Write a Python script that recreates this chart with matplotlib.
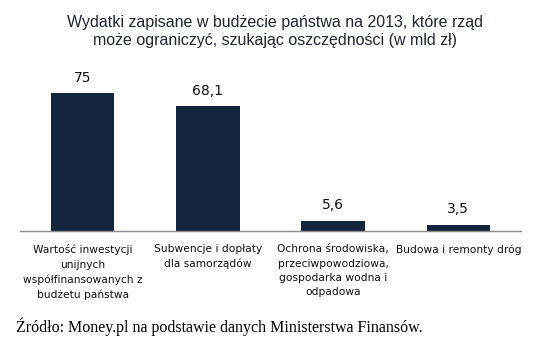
import matplotlib

matplotlib.use("Agg")
import matplotlib.pyplot as plt

# data
categories = [
    "Wartość inwestycji\nunijnych\nwspółfinansowanych z\nbudżetu państwa",
    "Subwencje i dopłaty\ndla samorządów",
    "Ochrona środowiska,\nprzeciwpowodziowa,\ngospodarka wodna i\nodpadowa",
    "Budowa i remonty dróg",
]
values = [75, 68.1, 5.6, 3.5]
value_labels = ["75", "68,1", "5,6", "3,5"]

title = "Wydatki zapisane w budżecie państwa na 2013, które rząd\nmoże ograniczyć, szukając oszczędności (w mld zł)"
source = "Źródło: Money.pl na podstawie danych Ministerstwa Finansów."

W, H = 558, 364
fig = plt.figure(figsize=(W / 100, H / 100), dpi=100)
ax = fig.add_axes([20 / W, 1 - 231 / H, 501 / W, 147 / H])

x = list(range(len(values)))
ax.bar(x, values, width=0.507, color="#14243d")
ax.set_xlim(-0.5, len(values) - 0.5)
ax.set_ylim(0, 80)

for xi, v, lab in zip(x, values, value_labels):
    ax.annotate(lab, (xi, v), xytext=(0, 6), textcoords="offset points",
                ha="center", va="bottom", fontsize=10, color="#111111",
                family="DejaVu Sans")

for s in ["top", "right", "left"]:
    ax.spines[s].set_visible(False)
ax.spines["bottom"].set_color("#8c8c8c")
ax.spines["bottom"].set_linewidth(1.0)
ax.set_yticks([])
ax.set_xticks(x)
ax.set_xticklabels(categories, fontsize=7.7, color="#111111", linespacing=1.55,
                   family="DejaVu Sans", va="top")
ax.tick_params(axis="x", length=0, pad=9.5)

fig.text(275 / W, 1 - 15 / H, title, ha="center", va="top", fontsize=11.5,
         color="#1f2533", family="Liberation Sans", linespacing=1.22)
fig.text(16 / W, 1 - 327 / H, source, ha="left", va="center", fontsize=11.55,
         color="#000000", family="Liberation Serif")

fig.savefig("out.png", dpi=100)
